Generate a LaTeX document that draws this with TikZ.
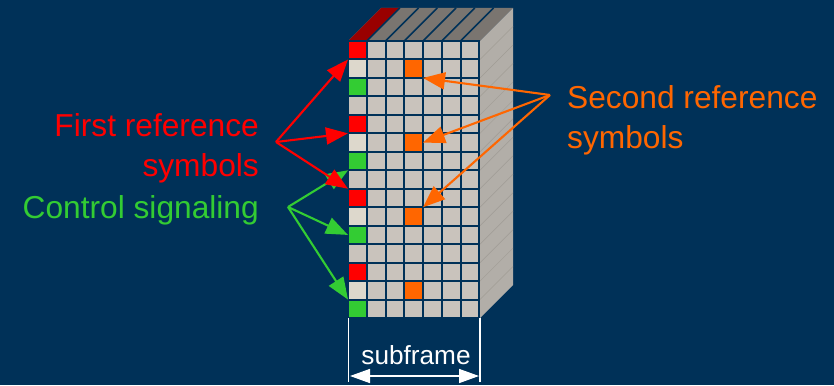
\documentclass[tikz,border=0pt]{standalone}
\usepackage{fontspec}
\setmainfont{Liberation Sans}
\usetikzlibrary{arrows.meta}
\definecolor{bg}{HTML}{003158}
\definecolor{cellc}{HTML}{C9C3BC}
\definecolor{lightc}{HTML}{DDD8CC}
\definecolor{topc}{HTML}{7A7570}
\definecolor{sidec}{HTML}{B2AEA8}
\definecolor{sidel}{HTML}{A09C95}
\definecolor{dred}{HTML}{990000}
\definecolor{myred}{HTML}{FF0000}
\definecolor{mygreen}{HTML}{33CC33}
\definecolor{myor}{HTML}{FF6600}
\tikzset{
  cell/.style={draw=bg,line width=2pt,fill=cellc,minimum width=18.75pt,minimum height=18.47pt,inner sep=0pt,outer sep=0pt,anchor=north west},
  lbl/.style={font=\fontsize{31.7}{38}\selectfont,inner sep=0pt},
  ptr/.style={line width=2.1pt,-{Triangle[length=22pt,width=17pt]}},
  lim/.style={draw=white,line width=1.6pt}
}
\begin{document}
\begin{tikzpicture}[x=1pt,y=-1pt]
\useasboundingbox (0,0) rectangle (834,385);
\fill[bg] (0,0) rectangle (834,385);
% top and side faces
\fill[topc] (348,41) -- (381,8) -- (513,8) -- (480,41) -- cycle;
\fill[dred] (348,41) -- (381,8) -- (400,8) -- (367,41) -- cycle;
\fill[sidec] (480,41) -- (513,8) -- (513,285) -- (480,318) -- cycle;
\foreach \i in {1,...,6}
  \draw[bg,line width=1.5pt] ({348+\i*18.75},41) -- ({381+\i*18.75},8);
\foreach \j in {1,...,14}
  \draw[sidel,line width=0.5pt] (480,{41+\j*18.47}) -- (513,{8+\j*18.47});
% grid
\foreach \r in {0,...,14}
  \foreach \c in {0,...,6}
    \node[cell] (c\r-\c) at ({348+\c*18.75},{41+\r*18.47}) {};
\foreach \r in {0,4,8,12} \node[cell,fill=myred] (red\r) at (348,{41+\r*18.47}) {};
\foreach \r in {1,5,9,13} \node[cell,fill=lightc] (lt\r) at (348,{41+\r*18.47}) {};
\foreach \r in {2,6,10,14} \node[cell,fill=mygreen] (gr\r) at (348,{41+\r*18.47}) {};
\foreach \r in {1,5,9,13} \node[cell,fill=myor] (or\r) at ({348+3*18.75},{41+\r*18.47}) {};
% labels
\node[lbl,text=myred,anchor=base east] (t1) at (259,136) {First reference};
\node[lbl,text=myred,anchor=base east] (t2) at (259,176) {symbols};
\node[lbl,text=mygreen,anchor=base east] (t3) at (259,218) {Control signaling};
\node[lbl,text=myor,anchor=base west] (t4) at (567,108) {Second reference};
\node[lbl,text=myor,anchor=base west] (t5) at (567,148) {symbols};
% pointers
\coordinate (hr) at (276,142);
\coordinate (hg) at (288,207);
\coordinate (ho) at (550,95);
\draw[ptr,myred] (hr) -- (lt1.north west);
\draw[ptr,myred] (hr) -- (red4.south west);
\draw[ptr,mygreen] (hg) -- (gr6.south west);
\draw[ptr,myred] (hr) -- (red8.north west);
\draw[ptr,mygreen] (hg) -- (gr10.west);
\draw[ptr,mygreen] (hg) -- (gr14.north west);
\draw[ptr,myor] (ho) -- (or1.south east);
\draw[ptr,myor] (ho) -- (or5.east);
\draw[ptr,myor] (ho) -- (or9.north east);
% subframe dimension
\coordinate (bl) at (348.6,382);
\coordinate (br) at (480,382);
\coordinate (tl) at (348.6,318);
\coordinate (tr) at (480,318);
\draw[lim] (tl) -- (bl);
\draw[lim] (tr) -- (br);
\draw[white,line width=1.6pt,{Triangle[length=20pt,width=14pt]}-{Triangle[length=20pt,width=14pt]}] (350,376) -- (479,376);
\node[font=\fontsize{26.2}{32}\selectfont,text=white,inner sep=0pt,anchor=base] (sf) at (416,364) {subframe};
\end{tikzpicture}
\end{document}
